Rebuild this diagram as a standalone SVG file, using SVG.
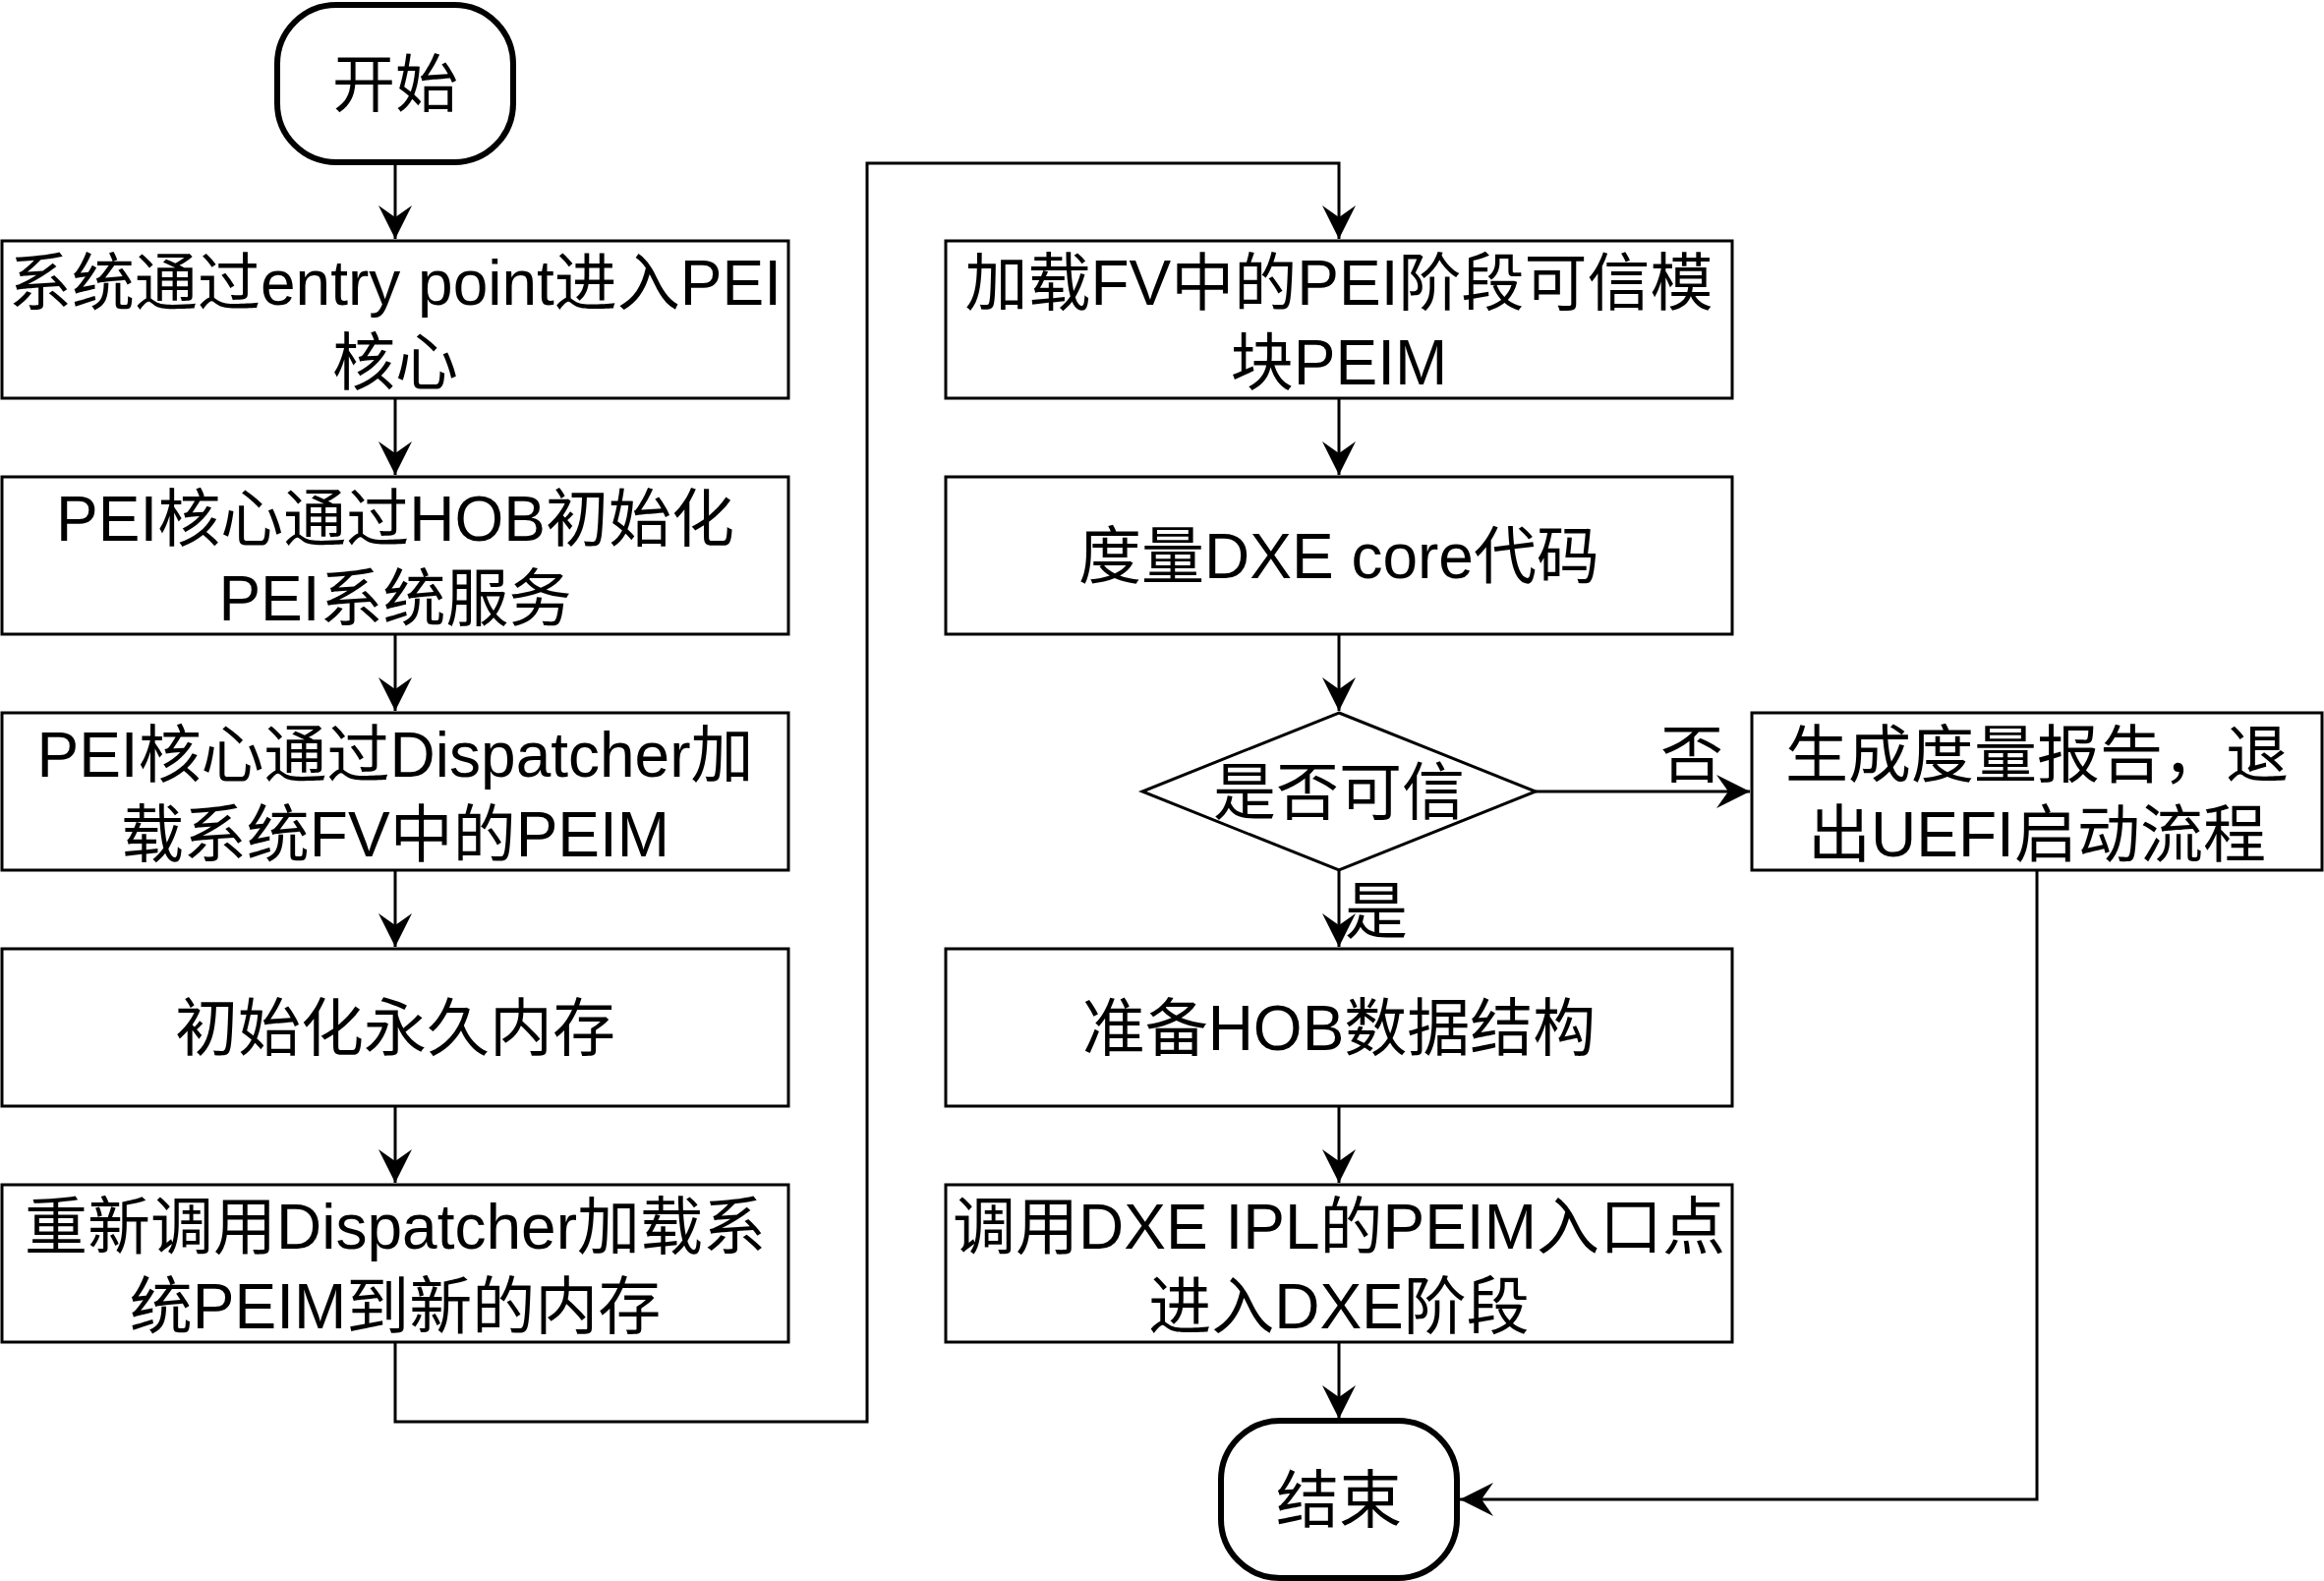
<svg xmlns="http://www.w3.org/2000/svg" width="2364" height="1608" viewBox="0 0 2364 1608">
<style>
.box{fill:#fff;stroke:#000;stroke-width:3}
.term{fill:#fff;stroke:#000;stroke-width:6}
.t{font-family:"Liberation Sans","Noto Sans CJK SC",sans-serif;font-size:64px;fill:#000;text-anchor:middle}
.lbl{font-family:"Liberation Sans","Noto Sans CJK SC",sans-serif;font-size:64px;fill:#000}
.c{fill:none;stroke:#000;stroke-width:3;marker-end:url(#arr)}
</style>
<defs>
<marker id="arr" markerUnits="userSpaceOnUse" viewBox="-36 -18 38 36" refX="0" refY="0" markerWidth="38" markerHeight="36" orient="auto">
<path d="M0,0 L-34,-17 L-22,0 L-34,17 Z" fill="#000"/>
</marker>
</defs>
<rect width="2364" height="1608" fill="#fff"/>
<g id="connectors">
<path class="c" d="M402 165 L402 243"/>
<path class="c" d="M402 405 L402 483"/>
<path class="c" d="M402 645 L402 723"/>
<path class="c" d="M402 885 L402 963"/>
<path class="c" d="M402 1125 L402 1203"/>
<path class="c" d="M402 1365 L402 1446 L882 1446 L882 166 L1362 166 L1362 243"/>
<path class="c" d="M1362 405 L1362 483"/>
<path class="c" d="M1362 645 L1362 723"/>
<path class="c" d="M1362 885 L1362 963"/>
<path class="c" d="M1562 805 L1780 805"/>
<path class="c" d="M1362 1125 L1362 1203"/>
<path class="c" d="M1362 1365 L1362 1443"/>
<path class="c" d="M2072 885 L2072 1525 L1485 1525"/>
<text class="lbl" x="1721" y="790" text-anchor="middle">否</text>
<text class="lbl" x="1368" y="949">是</text>
</g>
<g id="start">
<rect class="term" x="282" y="5" width="240" height="160" rx="60" ry="60"/>
<text class="t" x="402" y="108">开始</text>
</g>
<g id="n1">
<rect class="box" x="2" y="245" width="800" height="160"/>
<text class="t" x="402" y="310">系统通过entry point进入PEI</text>
<text class="t" x="402" y="391">核心</text>
</g>
<g id="n2">
<rect class="box" x="2" y="485" width="800" height="160"/>
<text class="t" x="402" y="550">PEI核心通过HOB初始化</text>
<text class="t" x="402" y="631">PEI系统服务</text>
</g>
<g id="n3">
<rect class="box" x="2" y="725" width="800" height="160"/>
<text class="t" x="402" y="790">PEI核心通过Dispatcher加</text>
<text class="t" x="402" y="871">载系统FV中的PEIM</text>
</g>
<g id="n4">
<rect class="box" x="2" y="965" width="800" height="160"/>
<text class="t" x="402" y="1068">初始化永久内存</text>
</g>
<g id="n5">
<rect class="box" x="2" y="1205" width="800" height="160"/>
<text class="t" x="402" y="1270">重新调用Dispatcher加载系</text>
<text class="t" x="402" y="1351">统PEIM到新的内存</text>
</g>
<g id="r1">
<rect class="box" x="962" y="245" width="800" height="160"/>
<text class="t" x="1362" y="310">加载FV中的PEI阶段可信模</text>
<text class="t" x="1362" y="391">块PEIM</text>
</g>
<g id="r2">
<rect class="box" x="962" y="485" width="800" height="160"/>
<text class="t" x="1362" y="588">度量DXE core代码</text>
</g>
<g id="decision">
<path class="box" d="M1362 725 L1562 805 L1362 885 L1162 805 Z"/>
<text class="t" x="1362" y="828">是否可信</text>
</g>
<g id="fail">
<rect class="box" x="1782" y="725" width="580" height="160"/>
<text class="t" x="2072" y="790">生成度量报告，退</text>
<text class="t" x="2072" y="871">出UEFI启动流程</text>
</g>
<g id="r3">
<rect class="box" x="962" y="965" width="800" height="160"/>
<text class="t" x="1362" y="1068">准备HOB数据结构</text>
</g>
<g id="r4">
<rect class="box" x="962" y="1205" width="800" height="160"/>
<text class="t" x="1362" y="1270">调用DXE IPL的PEIM入口点</text>
<text class="t" x="1362" y="1351">进入DXE阶段</text>
</g>
<g id="end">
<rect class="term" x="1242" y="1445" width="240" height="160" rx="60" ry="60"/>
<text class="t" x="1362" y="1548">结束</text>
</g>
</svg>
